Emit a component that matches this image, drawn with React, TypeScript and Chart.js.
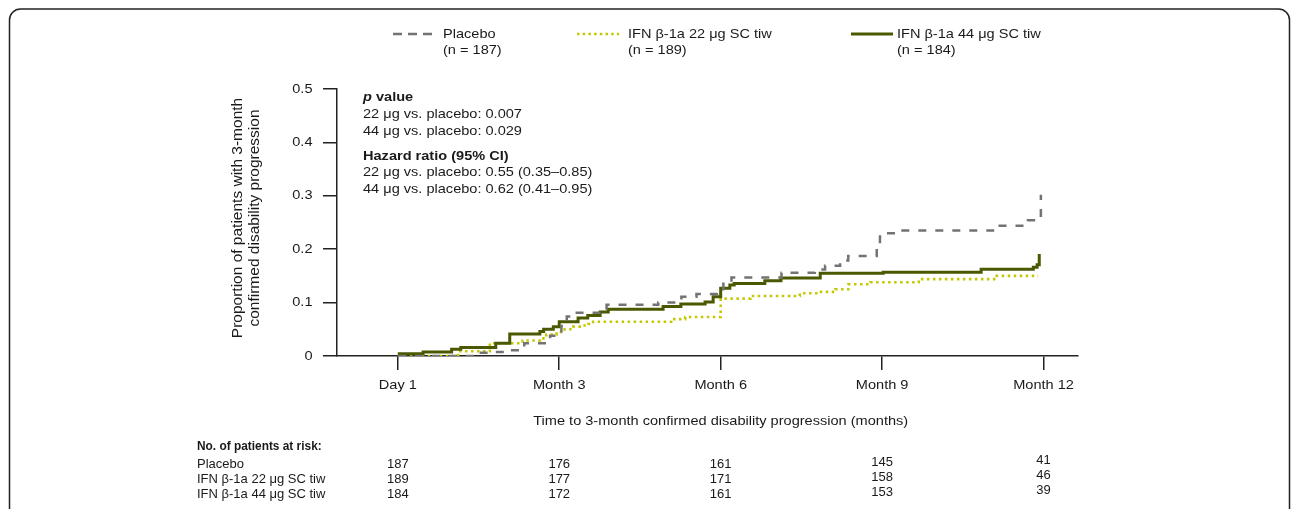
import React, { useEffect, useRef } from 'react';
import { Chart, registerables } from 'chart.js';
Chart.register(...registerables);

// ---- data (months, cumulative proportion) ----
const placeboT = [0, 1.52, 1.8, 2.05, 2.35, 2.83, 3.04, 3.14, 3.29, 3.88, 4.84, 5.27, 5.55, 5.93, 6.05, 6.2, 7.13, 7.75, 7.94, 8.22, 8.37, 8.9, 8.96, 9.24, 11.06, 11.71, 11.92, 11.95];
const placeboV = [0, 0.006, 0.0075, 0.011, 0.024, 0.038, 0.056, 0.074, 0.081, 0.096, 0.1, 0.111, 0.116, 0.12, 0.139, 0.147, 0.156, 0.162, 0.169, 0.179, 0.1875, 0.205, 0.23, 0.235, 0.244, 0.254, 0.26, 0.302];

const ifn22T = [0, 1.12, 1.71, 2.32, 2.64, 2.76, 2.95, 3.1, 3.26, 3.42, 3.54, 3.63, 5.08, 5.34, 6.0, 6.05, 6.55, 7.47, 7.82, 8.13, 8.37, 8.78, 9.68, 11.13, 11.9];
const ifn22V = [0, 0.009, 0.024, 0.029, 0.033, 0.04, 0.045, 0.05, 0.055, 0.057, 0.06, 0.064, 0.069, 0.073, 0.106, 0.1075, 0.1125, 0.1175, 0.12, 0.125, 0.1345, 0.138, 0.144, 0.15, 0.15];

const ifn44T = [0, 0.47, 1.0, 1.17, 1.82, 2.08, 2.64, 2.71, 2.89, 3.0, 3.35, 3.53, 3.76, 3.91, 4.93, 5.26, 5.71, 5.86, 6.0, 6.17, 6.25, 6.82, 7.12, 7.85, 9.02, 10.84, 11.81, 11.88, 11.92];
const ifn44V = [0.004, 0.0075, 0.0125, 0.016, 0.024, 0.041, 0.046, 0.05, 0.055, 0.064, 0.071, 0.076, 0.0825, 0.0875, 0.0925, 0.0975, 0.101, 0.111, 0.127, 0.133, 0.136, 0.141, 0.146, 0.155, 0.157, 0.1625, 0.166, 0.171, 0.191];

const xTickValues = [0, 3, 6, 9, 12];
const xTickLabels = ['Day 1', 'Month 3', 'Month 6', 'Month 9', 'Month 12'];
const yTickValues = [0, 0.1, 0.2, 0.3, 0.4, 0.5];

const seriesNames = ['Placebo', 'IFN β-1a 22 μg SC tiw', 'IFN β-1a 44 μg SC tiw'];
const seriesN = ['(n = 187)', '(n = 189)', '(n = 184)'];
const riskLabels = ['Placebo', 'IFN β-1a 22 μg SC tiw', 'IFN β-1a 44 μg SC tiw'];
const riskPlacebo = [187, 176, 161, 145, 41];
const risk22 = [189, 177, 171, 158, 46];
const risk44 = [184, 172, 161, 153, 39];

const pLines = ['22 μg vs. placebo: 0.007', '44 μg vs. placebo: 0.029'];
const hrLines = ['22 μg vs. placebo: 0.55 (0.35–0.85)', '44 μg vs. placebo: 0.62 (0.41–0.95)'];

const FONT = '"Liberation Sans", Arial, Helvetica, sans-serif';
const TXT = '#1a1a1a';
const C_PLA = '#737373';
const C_22 = '#c4c800';
const C_44 = '#4b5800';
const SX = 1.12; // horizontal stretch of the reference typography

const toXY = (t: number[], v: number[]) => t.map((x, i) => ({ x, y: v[i] }));

function txt(ctx: CanvasRenderingContext2D, s: string, x: number, y: number, align: CanvasTextAlign, font: string, sx = SX) {
  ctx.save();
  ctx.font = font;
  ctx.textAlign = align;
  ctx.textBaseline = 'middle';
  ctx.translate(x, y);
  ctx.scale(sx, 1);
  ctx.fillText(s, 0, 0);
  ctx.restore();
}

const overlay = {
  id: 'overlay',
  afterDraw(chart: any) {
    const ctx = chart.ctx as CanvasRenderingContext2D;
    const xs = chart.scales.x;
    const ys = chart.scales.y;
    ctx.save();
    // frame
    ctx.strokeStyle = '#222';
    ctx.lineWidth = 1.5;
    ctx.beginPath();
    const r = 11, L = 9.5, T = 9, R = 1289.5, B = 540;
    ctx.moveTo(L, B);
    ctx.lineTo(L, T + r);
    ctx.arcTo(L, T, L + r, T, r);
    ctx.lineTo(R - r, T);
    ctx.arcTo(R, T, R, T + r, r);
    ctx.lineTo(R, B);
    ctx.stroke();

    ctx.fillStyle = TXT;
    const F = `13px ${FONT}`;
    const FB = `bold 13px ${FONT}`;

    // legend
    const legX = [393, 577, 851];
    const legTx = [443, 628, 897];
    const styles = [
      { c: C_PLA, d: [9, 6], w: 2.5 },
      { c: C_22, d: [2.5, 3.2], w: 2.6 },
      { c: C_44, d: [], w: 3 },
    ];
    for (let i = 0; i < 3; i++) {
      ctx.save();
      ctx.strokeStyle = styles[i].c;
      ctx.lineWidth = styles[i].w;
      ctx.setLineDash(styles[i].d);
      ctx.beginPath();
      ctx.moveTo(legX[i], 34);
      ctx.lineTo(legX[i] + 42, 34);
      ctx.stroke();
      ctx.restore();
      txt(ctx, seriesNames[i], legTx[i], 34, 'left', F);
      txt(ctx, seriesN[i], legTx[i], 50.5, 'left', F);
    }

    // annotation
    const ax = 363;
    ctx.font = `italic bold 13px ${FONT}`;
    const pw = ctx.measureText('p').width * SX;
    txt(ctx, 'p', ax, 97.5, 'left', `italic bold 13px ${FONT}`);
    txt(ctx, ' value', ax + pw, 97.5, 'left', FB);
    txt(ctx, pLines[0], ax, 114.5, 'left', F);
    txt(ctx, pLines[1], ax, 131.5, 'left', F);
    txt(ctx, 'Hazard ratio (95% CI)', ax, 156, 'left', FB);
    txt(ctx, hrLines[0], ax, 172.5, 'left', F);
    txt(ctx, hrLines[1], ax, 189.5, 'left', F);

    // y tick labels
    yTickValues.forEach((v) => {
      txt(ctx, v === 0 ? '0' : v.toFixed(1), 312.5, ys.getPixelForValue(v), 'right', F);
    });
    // x tick labels
    xTickValues.forEach((v, i) => {
      txt(ctx, xTickLabels[i], xs.getPixelForValue(v), 385, 'center', F);
    });

    // y axis title
    ctx.save();
    ctx.translate(238, 218);
    ctx.rotate(-Math.PI / 2);
    ctx.font = `15.5px ${FONT}`;
    ctx.textAlign = 'center';
    ctx.textBaseline = 'middle';
    ctx.fillText('Proportion of patients with 3-month', 0, 0);
    ctx.fillText('confirmed disability progression', 0, 16.5);
    ctx.restore();

    // x axis title
    const xc = (xs.getPixelForValue(0) + xs.getPixelForValue(12)) / 2;
    txt(ctx, 'Time to 3-month confirmed disability progression (months)', xc, 421.5, 'center', F);

    // risk table
    txt(ctx, 'No. of patients at risk:', 197, 447, 'left', `bold 12.5px ${FONT}`, 0.95);
    const rows = [riskPlacebo, risk22, risk44];
    const rowY = [464, 479, 494];
    const colDy = [0, 0, 0, -1.5, -4];
    for (let i = 0; i < 3; i++) {
      txt(ctx, riskLabels[i], 197, rowY[i], 'left', F, 1.0);
      rows[i].forEach((n, j) => {
        txt(ctx, String(n), xs.getPixelForValue(xTickValues[j]), rowY[i] + colDy[j], 'center', F, 1.0);
      });
    }
    ctx.restore();
  },
};

export default function App() {
  const ref = useRef<HTMLCanvasElement>(null);
  useEffect(() => {
    if (!ref.current) return;
    const chart = new Chart(ref.current, {
      type: 'line',
      data: {
        datasets: [
          {
            label: seriesNames[0],
            data: toXY(placeboT, placeboV),
            borderColor: C_PLA,
            borderWidth: 2.5,
            borderDash: [8, 9],
            stepped: 'before',
            pointRadius: 0,
            fill: false,
            order: 0,
          },
          {
            label: seriesNames[2],
            data: toXY(ifn44T, ifn44V),
            borderColor: C_44,
            borderWidth: 3,
            stepped: 'before',
            pointRadius: 0,
            fill: false,
            order: 1,
          },
          {
            label: seriesNames[1],
            data: toXY(ifn22T, ifn22V),
            borderColor: C_22,
            borderWidth: 2.6,
            borderDash: [2.5, 3.5],
            stepped: 'before',
            pointRadius: 0,
            fill: false,
            order: 2,
          },
        ],
      },
      options: {
        animation: false,
        responsive: false,
        maintainAspectRatio: false,
        layout: { padding: { left: 277, right: 214, top: 89, bottom: 113 } },
        plugins: { legend: { display: false }, tooltip: { enabled: false } },
        scales: {
          x: {
            type: 'linear',
            min: -1.13,
            max: 12.64,
            afterBuildTicks: (s: any) => {
              s.ticks = xTickValues.map((v) => ({ value: v }));
            },
            afterFit: (s: any) => {
              s.height = 40;
            },
            ticks: { display: false, autoSkip: false, maxRotation: 0 },
            grid: { drawOnChartArea: false, drawTicks: true, tickLength: 14, color: '#222', lineWidth: 1.5 },
            border: { display: true, color: '#222', width: 1.5 },
          },
          y: {
            min: 0,
            max: 0.5,
            afterBuildTicks: (s: any) => {
              s.ticks = yTickValues.map((v) => ({ value: v }));
            },
            afterFit: (s: any) => {
              s.width = 60;
            },
            ticks: { display: false },
            grid: { drawOnChartArea: false, drawTicks: true, tickLength: 14, color: '#222', lineWidth: 1.5 },
            border: { display: true, color: '#222', width: 1.5 },
          },
        },
      },
      plugins: [overlay],
    } as any);
    return () => chart.destroy();
  }, []);
  return (
    <div style={{ position: 'fixed', left: 0, top: 0, width: 1292, height: 509, background: '#fff' }}>
      <canvas ref={ref} width={1292} height={509} style={{ display: 'block' }} />
    </div>
  );
}
